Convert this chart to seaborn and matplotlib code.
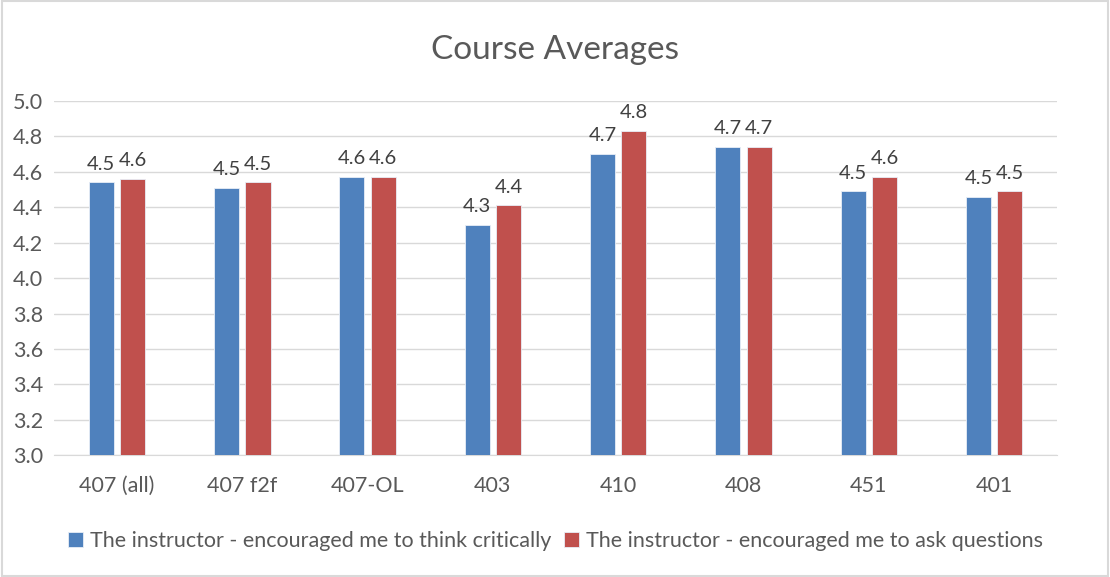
import pandas as pd
import matplotlib.pyplot as plt
import seaborn as sns
from matplotlib.patches import Rectangle

# Chart data
courses = ["407 (all)", "407 f2f", "407-OL", "403", "410", "408", "451", "401"]
think_critically = [4.54, 4.51, 4.57, 4.30, 4.70, 4.74, 4.49, 4.46]
ask_questions = [4.56, 4.54, 4.57, 4.41, 4.83, 4.74, 4.57, 4.49]
series_names = ["The instructor - encouraged me to think critically",
                "The instructor - encouraged me to ask questions"]
y_ticks = [3.0, 3.2, 3.4, 3.6, 3.8, 4.0, 4.2, 4.4, 4.6, 4.8, 5.0]

# Long form table for seaborn
df = pd.DataFrame({
    "course": courses * 2,
    "score": think_critically + ask_questions,
    "series": [series_names[0]] * len(courses) + [series_names[1]] * len(courses),
})

sns.set_style("white")
plt.rcParams["font.family"] = ["Lato", "DejaVu Sans"]

fig = plt.figure(figsize=(11.1, 5.77), dpi=100)
ax = fig.add_axes([0.049, 0.211, 0.903, 0.614])

sns.barplot(data=df, x="course", y="score", hue="series", order=courses,
            hue_order=series_names, palette=["#4F81BD", "#C0504D"],
            saturation=1, width=0.5, gap=0.2, edgecolor="#E8EEF7", linewidth=0.6,
            errorbar=None, ax=ax, zorder=3)

# Value labels
for cont in ax.containers:
    ax.bar_label(cont, fmt="%.1f", padding=7, fontsize=14.5, color="#404040")

ax.set_ylim(3.0, 5.0)
ax.set_yticks(y_ticks)
ax.set_yticklabels([f"{t:.1f}" for t in y_ticks])
ax.grid(axis="y", color="#D9D9D9", linewidth=1, zorder=0)
ax.set_axisbelow(True)
for s in ax.spines.values():
    s.set_visible(False)
ax.spines["bottom"].set_visible(True)
ax.spines["bottom"].set_color("#D9D9D9")
ax.tick_params(axis="both", length=0, labelsize=15.5, labelcolor="#595959")
ax.tick_params(axis="x", pad=15)
ax.tick_params(axis="y", pad=8)
ax.set_xlabel("")
ax.set_ylabel("")

fig.suptitle("Course Averages", y=0.94, fontsize=24, color="#595959")

ax.legend(loc="upper center", bbox_to_anchor=(0.5, -0.16), ncol=2,
          frameon=False, fontsize=15.5, handlelength=0.7, handleheight=0.7,
          handletextpad=0.3, columnspacing=0.6, labelcolor="#595959")

# Chart border
fig.patches.append(Rectangle((0.002, 0.002), 0.996, 0.996, transform=fig.transFigure,
                             fill=False, edgecolor="#D9D9D9", linewidth=1.5))

fig.savefig("out.png", dpi=100)
